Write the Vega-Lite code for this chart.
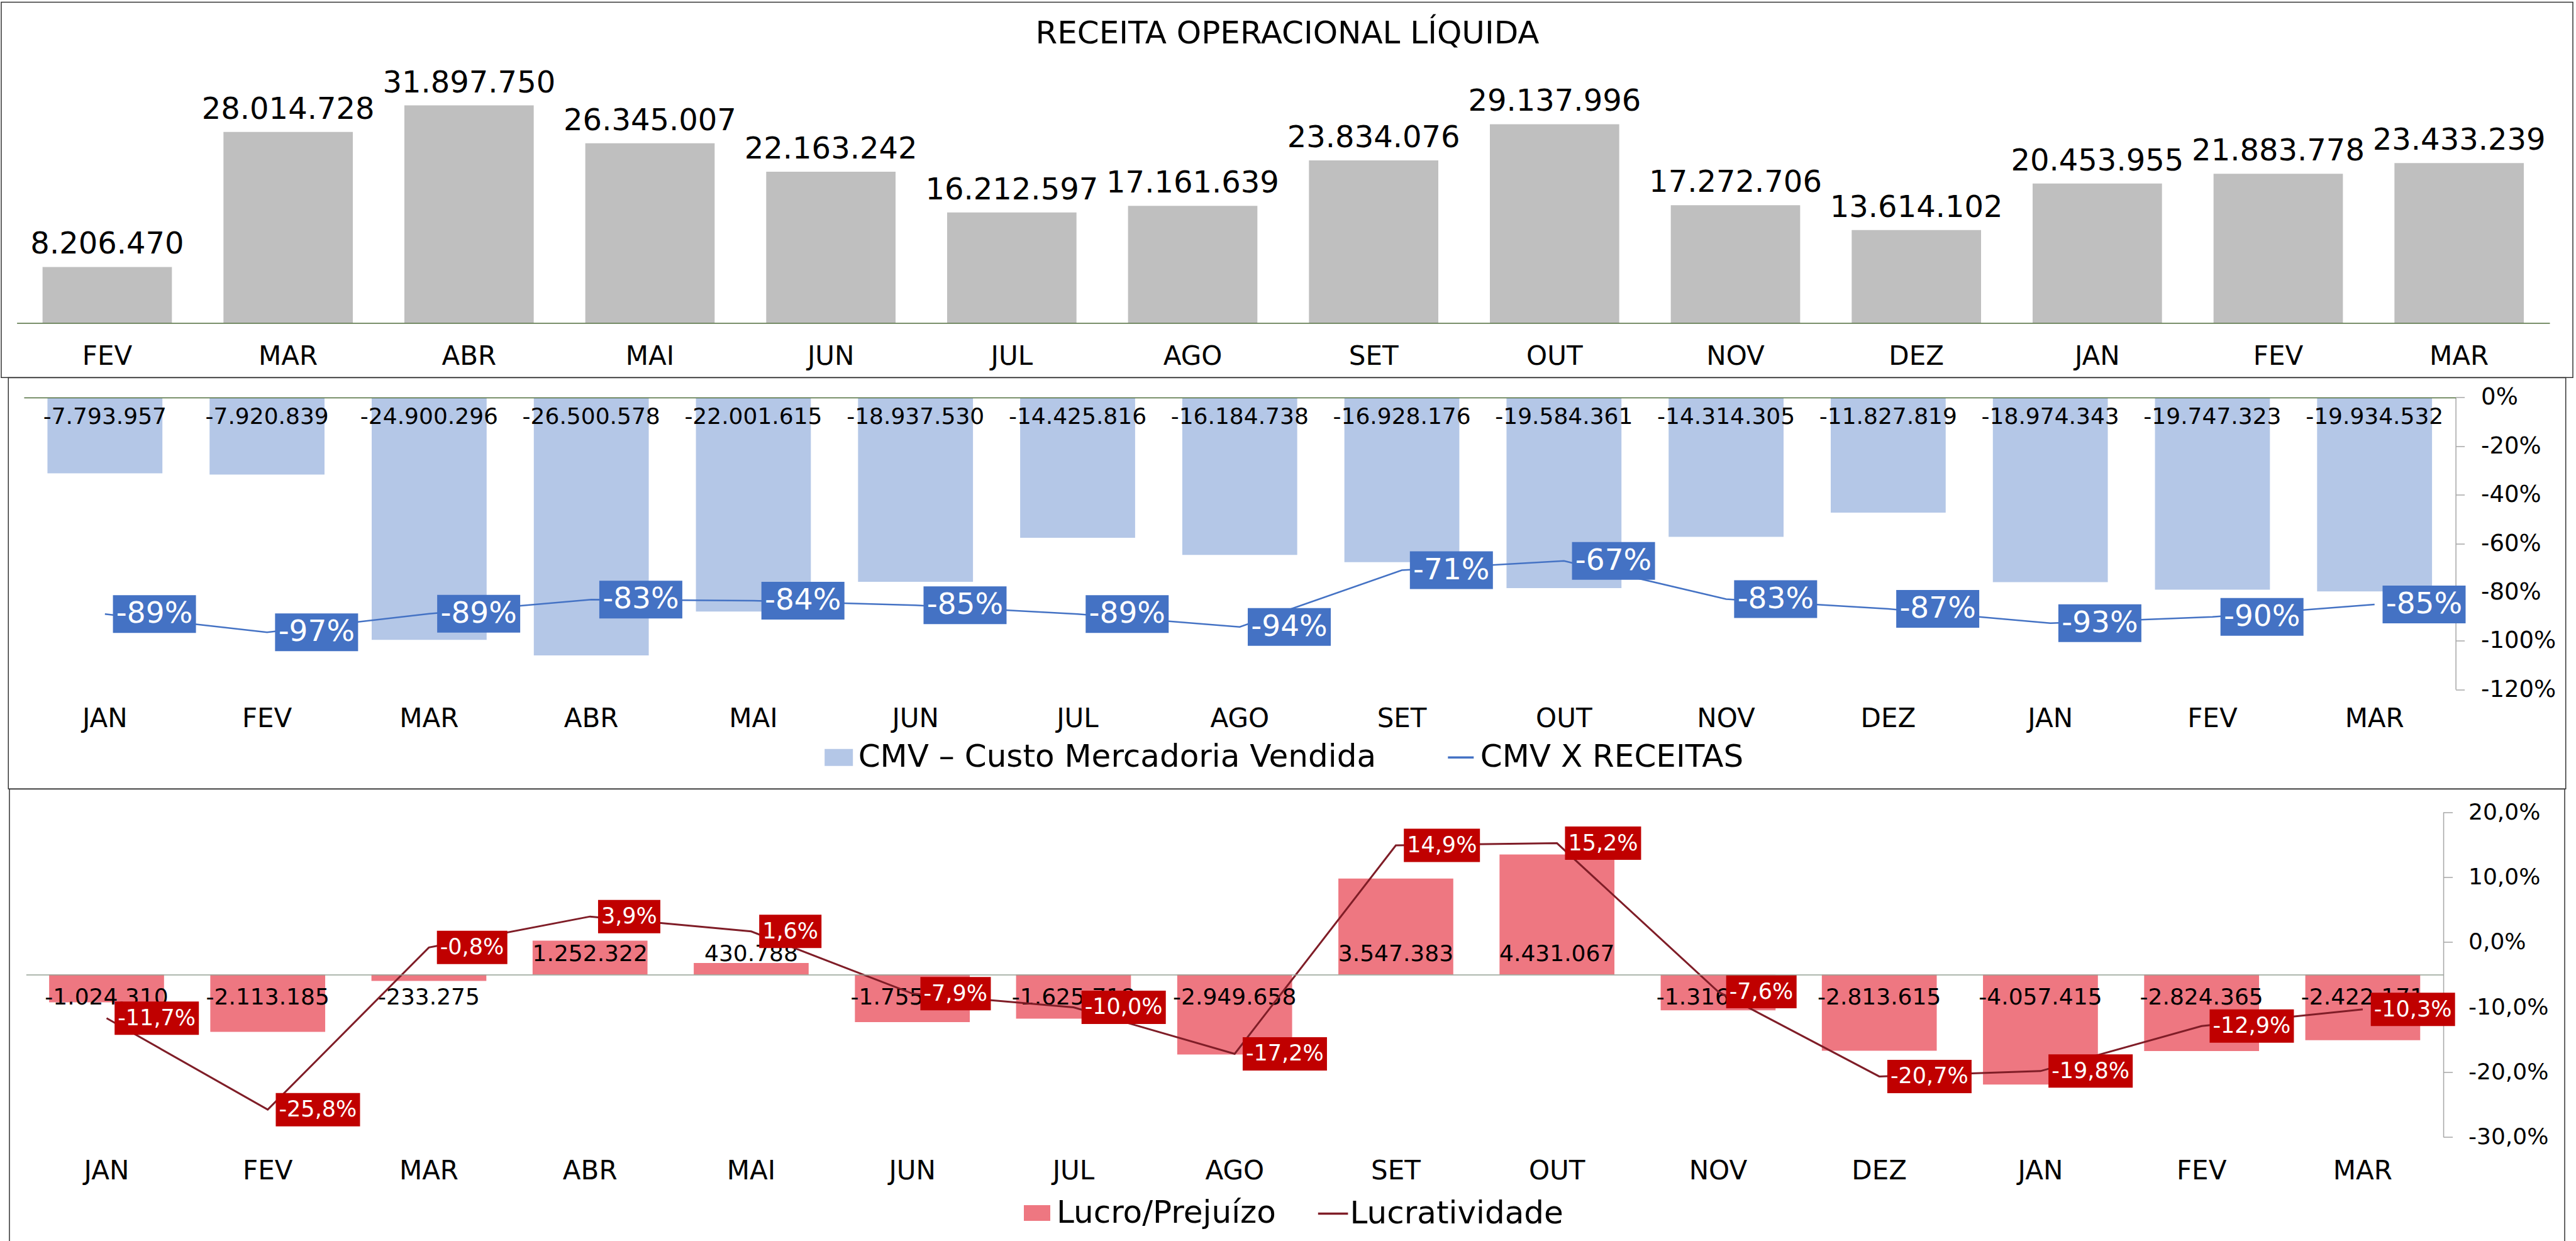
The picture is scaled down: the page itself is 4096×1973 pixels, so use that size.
{
"$schema":"https://vega.github.io/schema/vega-lite/v6.json",
"padding":{"left":1,"top":2.5,"right":0,"bottom":0},
"background":"#ffffff",
"spacing":-5.1,
"center":true,
"bounds":"flush",
"resolve":{"scale":{"x":"independent","y":"independent","fill":"independent","stroke":"independent"},"legend":{"fill":"independent","stroke":"independent"}},
"config":{
 "font":"DejaVu Sans",
 "locale":{"number":{"decimal":",","thousands":".","grouping":[3],"currency":["R$",""],"minus":"-"}},
 "view":{"stroke":"#333333","strokeWidth":1.5},
 "axis":{"grid":false,"labelFont":"DejaVu Sans","labelColor":"#000000","titleFont":"DejaVu Sans"},
 "legend":{"labelFont":"DejaVu Sans","labelColor":"#000000","labelLimit":0,"padding":0}
},
"vconcat":[
{
 "width":4089,"height":596.7,
 "data":{"values":[
  {"k":"FEV 1","v":8206470},{"k":"MAR 1","v":28014728},{"k":"ABR 1","v":31897750},{"k":"MAI 1","v":26345007},
  {"k":"JUN 1","v":22163242},{"k":"JUL 1","v":16212597},{"k":"AGO 1","v":17161639},{"k":"SET 1","v":23834076},
  {"k":"OUT 1","v":29137996},{"k":"NOV 1","v":17272706},{"k":"DEZ 1","v":13614102},{"k":"JAN 2","v":20453955},
  {"k":"FEV 2","v":21883778},{"k":"MAR 2","v":23433239}]},
 "encoding":{"x":{"field":"k","type":"nominal","sort":null,
   "scale":{"type":"band","range":[24.65,4052],"paddingInner":0.285,"paddingOuter":0.1425},
   "axis":{"orient":"bottom","offset":-86.7,"domain":true,"domainColor":"#4E6B3A","domainWidth":1.5,"ticks":false,"tickSize":0,"labelPadding":52.7,"labelBaseline":"middle","labelAngle":0,"labelFontSize":42,"labelExpr":"slice(datum.label,0,3)","zindex":1,
     "title":"RECEITA OPERACIONAL LÍQUIDA","titleX":2044.5,"titleY":-459.6,"titleAlign":"center","titleBaseline":"middle","titleFontSize":50,"titleFontWeight":"normal","titleColor":"#000000","titleAnchor":null}}},
 "layer":[
  {"mark":{"type":"bar","color":"#BFBFBF"},
   "encoding":{"y":{"field":"v","type":"quantitative","scale":{"domain":[0,35000000],"range":[510,130.4],"nice":false,"zero":false},"axis":null}}},
  {"mark":{"type":"text","baseline":"alphabetic","dy":-21,"fontSize":48,"color":"#000000"},
   "encoding":{"y":{"field":"v","type":"quantitative","axis":null},
     "text":{"field":"v","type":"quantitative","format":",.0f"}}}
 ]
},
{
 "width":4066.4,"height":653.65,
 "data":{"values":[
  {"k":"JAN 1","cmv":-7793957,"pct":-0.89},{"k":"FEV 1","cmv":-7920839,"pct":-0.9652},{"k":"MAR 1","cmv":-24900296,"pct":-0.889},
  {"k":"ABR 1","cmv":-26500578,"pct":-0.831},{"k":"MAI 1","cmv":-22001615,"pct":-0.8351},{"k":"JUN 1","cmv":-18937530,"pct":-0.854},
  {"k":"JUL 1","cmv":-14425816,"pct":-0.89},{"k":"AGO 1","cmv":-16184738,"pct":-0.943},{"k":"SET 1","cmv":-16928176,"pct":-0.71},
  {"k":"OUT 1","cmv":-19584361,"pct":-0.672},{"k":"NOV 1","cmv":-14314305,"pct":-0.829},{"k":"DEZ 1","cmv":-11827819,"pct":-0.869},
  {"k":"JAN 2","cmv":-18974343,"pct":-0.928},{"k":"FEV 2","cmv":-19747323,"pct":-0.902},{"k":"MAR 2","cmv":-19934532,"pct":-0.851}]},
 "resolve":{"scale":{"y":"independent"}},
 "encoding":{"x":{"field":"k","type":"nominal","sort":null,
   "scale":{"type":"band","range":[24.65,3891.3],"paddingInner":0.291,"paddingOuter":0.1455},
   "axis":{"orient":"top","offset":-31.45,"title":null,"domain":true,"domainColor":"#4E6B3A","domainWidth":1.5,"ticks":false,"tickSize":0,"labelPadding":-510.85,"labelBaseline":"middle","labelAngle":0,"labelFontSize":42,"labelExpr":"slice(datum.label,0,3)","zindex":1}}},
 "layer":[
   {"mark":{"type":"bar"},
    "encoding":{
     "y":{"field":"cmv","type":"quantitative","scale":{"domain":[-30000000,0],"range":[495.55,31.45],"nice":false,"zero":false},"axis":null},
     "fill":{"datum":"CMV – Custo Mercadoria Vendida","type":"nominal","scale":{"range":["#B4C7E7"]},
       "legend":{"orient":"none","legendX":1295.4,"legendY":578.75,"title":null,"symbolType":"M-1,-0.6H1V0.6H-1Z","symbolSize":2025,"symbolStrokeWidth":0,"labelFontSize":50,"labelOffset":6,"padding":0}}}},
   {"mark":{"type":"text","dy":30.6,"baseline":"middle","fontSize":36,"color":"#000000"},
    "encoding":{
     "y":{"datum":0,"type":"quantitative","scale":{"domain":[-30000000,0],"range":[495.55,31.45],"nice":false,"zero":false},"axis":null},
     "text":{"field":"cmv","type":"quantitative","format":",.0f"}}},
   {"mark":{"type":"line","strokeWidth":2.5},
    "encoding":{
     "y":{"field":"pct","type":"quantitative","scale":{"domain":[-1.2,0],"range":[495.55,31.45],"nice":false,"zero":false},
       "axis":{"orient":"right","offset":-175.1,"title":null,"values":[0,-0.2,-0.4,-0.6,-0.8,-1,-1.2],"format":".0%","domain":true,"domainColor":"#A6A6A6","domainWidth":1.5,"ticks":true,"tickColor":"#A6A6A6","tickWidth":1.5,"tickSize":14,"labelPadding":26,"labelFontSize":37,"labelBaseline":"middle"}},
     "stroke":{"datum":"CMV X RECEITAS","type":"nominal","scale":{"range":["#4472C4"]},
       "legend":{"orient":"none","legendX":2284.5,"legendY":578.75,"title":null,"symbolType":"stroke","symbolSize":1681,"symbolStrokeWidth":3.5,"labelFontSize":50,"labelOffset":6,"padding":0}}}},
   {"mark":{"type":"point","shape":"M12.75,-30H144.75V30H12.75Z","size":4,"filled":true,"opacity":1,"fill":"#4472C4","strokeWidth":0},
    "encoding":{
     "y":{"field":"pct","type":"quantitative","scale":{"domain":[-1.2,0],"range":[495.55,31.45],"nice":false,"zero":false},"axis":null}}},
   {"mark":{"type":"text","align":"center","dx":78.75,"baseline":"middle","fontSize":47,"color":"#FFFFFF"},
    "encoding":{
     "y":{"field":"pct","type":"quantitative","scale":{"domain":[-1.2,0],"range":[495.55,31.45],"nice":false,"zero":false},"axis":null},
     "text":{"field":"pct","type":"quantitative","format":".0%"}}}
 ]
},
{
 "width":4063,"height":729.8,
 "data":{"values":[
  {"k":"JAN 1","lucro":-1024310,"lucr":-0.117},{"k":"FEV 1","lucro":-2113185,"lucr":-0.2577},{"k":"MAR 1","lucro":-233275,"lucr":-0.0083},
  {"k":"ABR 1","lucro":1252322,"lucr":0.0393},{"k":"MAI 1","lucro":430788,"lucr":0.0164},{"k":"JUN 1","lucro":-1755300,"lucr":-0.0792},
  {"k":"JUL 1","lucro":-1625718,"lucr":-0.1003},{"k":"AGO 1","lucro":-2949658,"lucr":-0.1719},{"k":"SET 1","lucro":3547383,"lucr":0.1488},
  {"k":"OUT 1","lucro":4431067,"lucr":0.1521},{"k":"NOV 1","lucro":-1316400,"lucr":-0.0762},{"k":"DEZ 1","lucro":-2813615,"lucr":-0.2067},
  {"k":"JAN 2","lucro":-4057415,"lucr":-0.1984},{"k":"FEV 2","lucro":-2824365,"lucr":-0.1291},{"k":"MAR 2","lucro":-2422171,"lucr":-0.1034}]},
 "resolve":{"scale":{"y":"independent"}},
 "encoding":{"x":{"field":"k","type":"nominal","sort":null,
   "scale":{"type":"band","range":[26.35,3870.05],"paddingInner":0.287,"paddingOuter":0.1435},
   "axis":{"orient":"top","offset":-294.95,"title":null,"domain":true,"domainColor":"#95A195","domainWidth":1.5,"ticks":false,"tickSize":0,"labelPadding":-311.95,"labelBaseline":"middle","labelAngle":0,"labelFontSize":42,"labelExpr":"slice(datum.label,0,3)","zindex":1}}},
 "layer":[
   {"mark":{"type":"bar"},
    "encoding":{
     "y":{"field":"lucro","type":"quantitative","scale":{"domain":[-6000000,6000000],"range":[553.35,36.55],"nice":false,"zero":false},"axis":null},
     "fill":{"datum":"Lucro/Prejuízo","type":"nominal","scale":{"range":["#EE7781"]},
       "legend":{"orient":"none","legendX":1609,"legendY":649,"title":null,"symbolType":"M-1,-0.6H1V0.6H-1Z","symbolSize":1764,"symbolStrokeWidth":0,"labelFontSize":50,"labelOffset":6,"padding":0}}}},
   {"transform":[{"filter":"datum.lucro >= 0"}],
    "mark":{"type":"text","dy":-32,"baseline":"middle","fontSize":36,"color":"#000000"},
    "encoding":{
     "y":{"datum":0,"type":"quantitative","scale":{"domain":[-6000000,6000000],"range":[553.35,36.55],"nice":false,"zero":false},"axis":null},
     "text":{"field":"lucro","type":"quantitative","format":",.0f"}}},
   {"transform":[{"filter":"datum.lucro < 0"}],
    "mark":{"type":"text","dy":36.5,"baseline":"middle","fontSize":36,"color":"#000000"},
    "encoding":{
     "y":{"datum":0,"type":"quantitative","scale":{"domain":[-6000000,6000000],"range":[553.35,36.55],"nice":false,"zero":false},"axis":null},
     "text":{"field":"lucro","type":"quantitative","format":",.0f"}}},
   {"mark":{"type":"line","strokeWidth":3},
    "encoding":{
     "y":{"field":"lucr","type":"quantitative","scale":{"domain":[-0.3,0.2],"range":[553.35,36.55],"nice":false,"zero":false},
       "axis":{"orient":"right","offset":-192.95,"title":null,"values":[-0.3,-0.2,-0.1,0,0.1,0.2],"format":".1%","domain":true,"domainColor":"#A6A6A6","domainWidth":1.5,"ticks":true,"tickColor":"#A6A6A6","tickWidth":1.5,"tickSize":14.5,"labelPadding":25,"labelFontSize":36,"labelBaseline":"middle"}},
     "stroke":{"datum":"Lucratividade","type":"nominal","scale":{"range":["#7F1D27"]},
       "legend":{"orient":"none","legendX":2078.6,"legendY":649,"title":null,"symbolType":"stroke","symbolSize":2266,"symbolStrokeWidth":3.5,"labelFontSize":50,"labelOffset":1,"padding":0}}}},
   {"mark":{"type":"point","size":4,"filled":true,"opacity":1,"fill":"#C00000","strokeWidth":0},
    "encoding":{
     "y":{"field":"lucr","type":"quantitative","scale":{"domain":[-0.3,0.2],"range":[553.35,36.55],"nice":false,"zero":false},"axis":null},
     "shape":{"condition":[
        {"test":"datum.lucr <= -0.1","value":"M12.75,-26.5H146.75V26.5H12.75Z"},
        {"test":"datum.lucr >= 0.1","value":"M12.75,-26.5H133.75V26.5H12.75Z"},
        {"test":"datum.lucr < 0","value":"M12.75,-26.5H124.75V26.5H12.75Z"}],
       "value":"M12.75,-26.5H111.75V26.5H12.75Z"}}},
   {"mark":{"type":"text","align":"left","dx":17.75,"baseline":"middle","fontSize":35,"color":"#FFFFFF"},
    "encoding":{
     "y":{"field":"lucr","type":"quantitative","scale":{"domain":[-0.3,0.2],"range":[553.35,36.55],"nice":false,"zero":false},"axis":null},
     "text":{"field":"lucr","type":"quantitative","format":".1%"}}}
 ]
}
]
}
